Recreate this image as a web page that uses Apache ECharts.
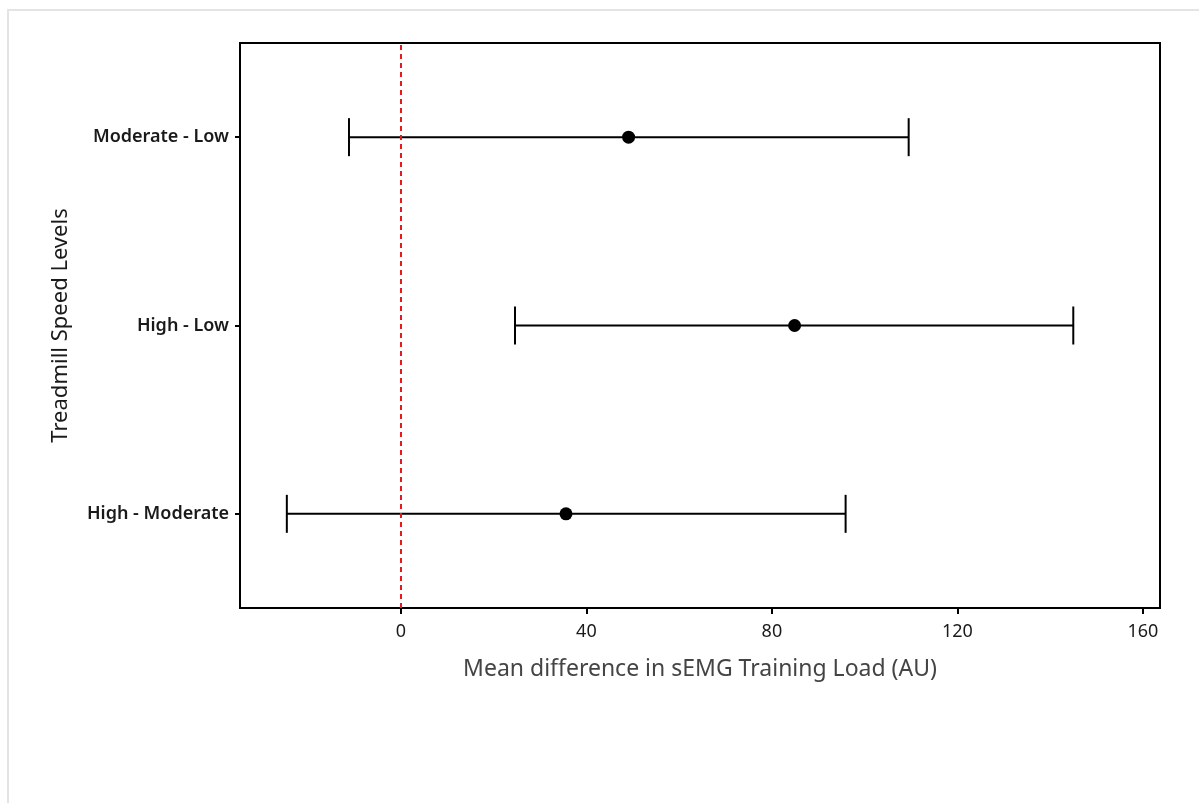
<!DOCTYPE html>
<html>
<head>
<meta charset="utf-8">
<script src="https://cdn.jsdelivr.net/npm/echarts@6/dist/echarts.min.js"></script>
<style>
  html, body { margin: 0; padding: 0; background: #fff; }
  #frame { position: absolute; left: 7px; top: 9px; width: 1200px; height: 800px;
           border-left: 2px solid #e4e4e4; border-top: 2px solid #e4e4e4; }
  #main { position: absolute; left: 0; top: 0; width: 1199px; height: 803px; }
</style>
</head>
<body>
<div id="frame"></div>
<div id="main"></div>
<script>
  // comparisons (bottom to top on the y axis)
  const comparisons = ['High - Moderate', 'High - Low', 'Moderate - Low']
  const meanDiff = [35.6, 84.9, 49.1]
  const lowerCI = [-24.6, 24.6, -11.2]
  const upperCI = [95.9, 145.0, 109.5]
  const xTicks = [0, 40, 80, 120, 160]

  const chart = echarts.init(document.getElementById('main'))
  const font = '"Noto Sans", "Open Sans", sans-serif'

  const option = {
    animation: false,
    grid: {
      left: 240, right: 39, top: 43, bottom: 195,
      show: true, borderColor: '#000', borderWidth: 2
    },
    xAxis: {
      type: 'value',
      min: -34.7,
      max: 163.7,
      name: 'Mean difference in sEMG Training Load (AU)',
      nameLocation: 'middle',
      nameGap: 50,
      nameTextStyle: { fontSize: 23, color: '#444', fontFamily: font },
      axisLine: { show: true, onZero: false, lineStyle: { color: '#000', width: 2 } },
      axisTick: { show: true, length: 6, lineStyle: { color: '#000', width: 2 }, customValues: xTicks },
      axisLabel: { fontSize: 18, color: '#1a1a1a', fontFamily: font, margin: 15, customValues: xTicks },
      splitLine: { show: false }
    },
    yAxis: {
      type: 'category',
      data: comparisons,
      name: 'Treadmill Speed Levels',
      nameLocation: 'middle',
      nameGap: 168,
      nameRotate: 90,
      nameTextStyle: { fontSize: 22, color: '#1a1a1a', fontFamily: font },
      axisLine: { show: true, onZero: false, lineStyle: { color: '#000', width: 2 } },
      axisTick: { show: true, alignWithLabel: true, length: 5, lineStyle: { color: '#000', width: 2 } },
      axisLabel: { fontSize: 18, fontWeight: 600, color: '#1a1a1a', fontFamily: font, margin: 11 },
      splitLine: { show: false }
    },
    series: [
      {
        type: 'custom',
        data: comparisons.map((c, i) => [i, lowerCI[i], upperCI[i]]),
        renderItem: function (params, api) {
          const idx = api.value(0)
          const lo = api.coord([api.value(1), idx])
          const hi = api.coord([api.value(2), idx])
          const cap = 19
          const style = { stroke: '#000', lineWidth: 2 }
          return {
            type: 'group',
            children: [
              { type: 'line', shape: { x1: lo[0], y1: lo[1], x2: hi[0], y2: hi[1] }, style: style },
              { type: 'line', shape: { x1: lo[0], y1: lo[1] - cap, x2: lo[0], y2: lo[1] + cap }, style: style },
              { type: 'line', shape: { x1: hi[0], y1: hi[1] - cap, x2: hi[0], y2: hi[1] + cap }, style: style }
            ]
          }
        },
        encode: { x: [1, 2], y: 0 },
        z: 2
      },
      {
        type: 'scatter',
        data: meanDiff.map((v, i) => [v, i]),
        symbol: 'circle',
        symbolSize: 13,
        itemStyle: { color: '#000', opacity: 1 },
        z: 3,
        markLine: {
          silent: true,
          symbol: 'none',
          label: { show: false },
          lineStyle: { color: '#e41a1c', type: [5, 4], width: 2 },
          data: [{ xAxis: 0 }]
        }
      }
    ]
  }

  chart.setOption(option)
</script>
</body>
</html>
